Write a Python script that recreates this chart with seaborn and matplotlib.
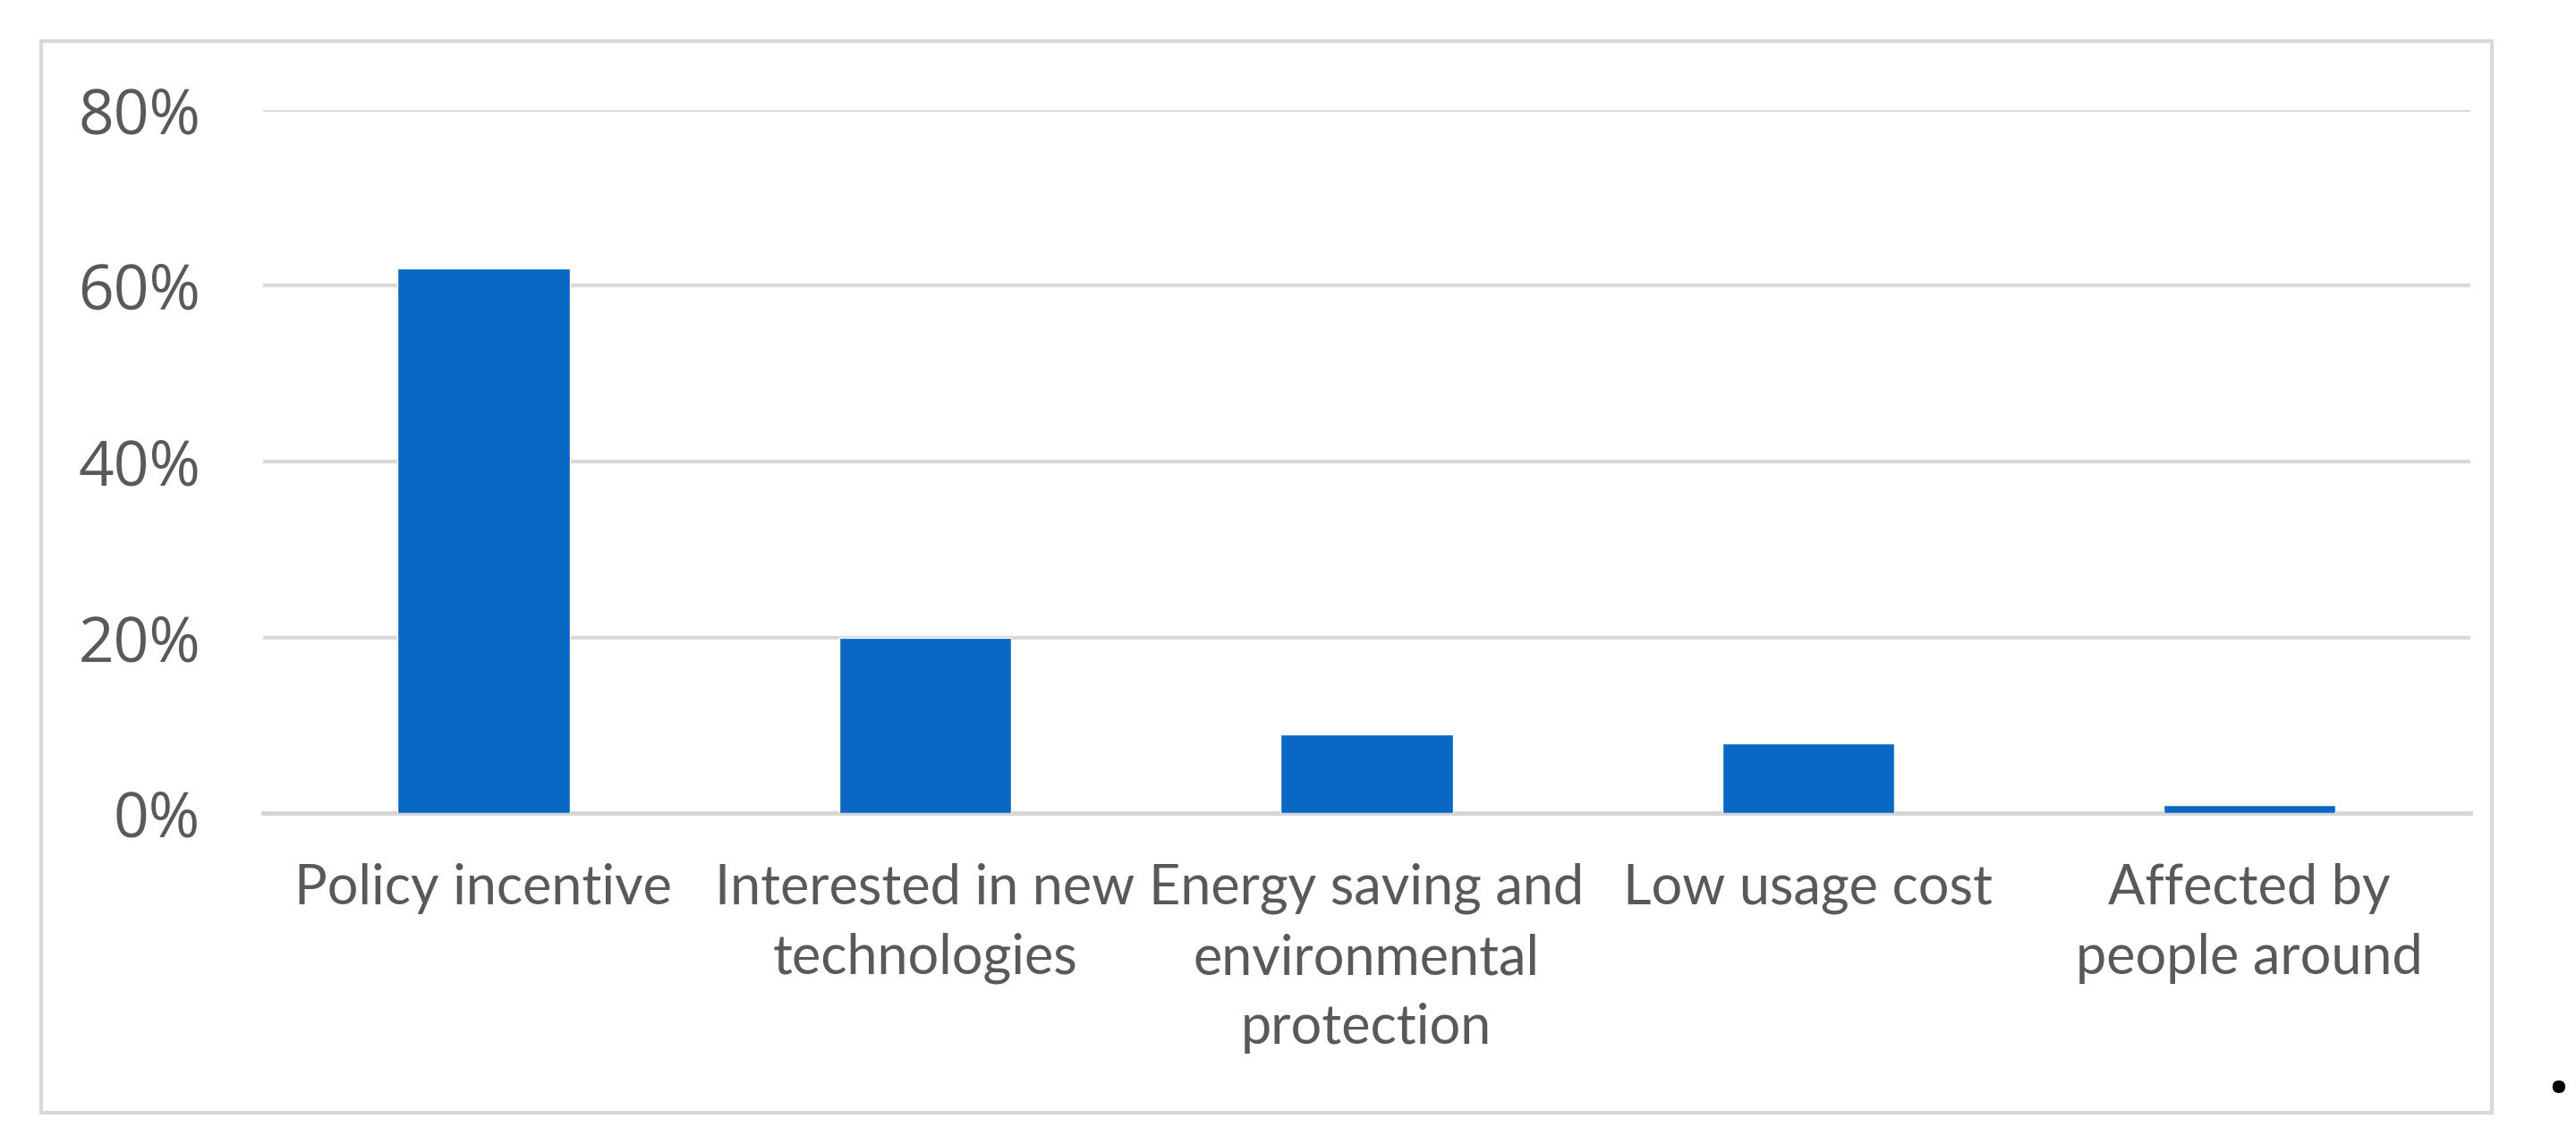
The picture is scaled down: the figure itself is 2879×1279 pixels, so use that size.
import numpy as np
import pandas as pd
import matplotlib
matplotlib.use("Agg")
import matplotlib.pyplot as plt
from matplotlib import ticker
from matplotlib.patches import Rectangle
import seaborn as sns

# datos
motivos = ["Policy incentive",
           "Interested in new\ntechnologies",
           "Energy saving and\nenvironmental\nprotection",
           "Low usage cost",
           "Affected by\npeople around"]
porcentajes = [62, 20, 9, 8, 1]
yticks = [0, 20, 40, 60, 80]

df = pd.DataFrame({"motivo": motivos, "pct": porcentajes})

sns.set_style("white")
plt.rcParams['font.family'] = ['Open Sans', 'DejaVu Sans']

fig = plt.figure(figsize=(28.79, 12.79), dpi=100)
ax = fig.add_axes([0.102, 0.289, 0.857, 0.615])

sns.barplot(data=df, x="motivo", y="pct", color="#0868c4", width=0.39,
            saturation=1, ax=ax, zorder=3)

ax.set_ylim(0, 80)
ax.set_xlim(-0.5, 4.5)
ax.set_yticks(yticks)
ax.yaxis.set_major_formatter(ticker.FuncFormatter(lambda v, p: f"{v:.0f}%"))
ax.grid(axis="y", color="#d9d9d9", linewidth=3, zorder=0)
ax.set_axisbelow(True)
for s in ["top", "right", "left"]:
    ax.spines[s].set_visible(False)
ax.spines["bottom"].set_color("#d6d6d6")
ax.spines["bottom"].set_linewidth(3.5)
ax.set_xlabel("")
ax.set_ylabel("")
ax.tick_params(axis="y", length=0, pad=50, labelsize=50, labelcolor="#595959")
ax.tick_params(axis="x", length=0, pad=40, labelcolor="#595959")
for lbl in ax.get_xticklabels():
    lbl.set_fontfamily(["Lato", "DejaVu Sans"])
    lbl.set_fontsize(44)
    lbl.set_linespacing(1.45)
    lbl.set_verticalalignment("top")

# marco gris alrededor
fig.patches.append(Rectangle((0.0159, 0.027), 0.9516, 0.937, transform=fig.transFigure,
                             fill=False, edgecolor="#d9d9d9", linewidth=3))
fig.text(0.993, 0.045, ".", fontsize=60, fontweight="bold", color="black", ha="center")

fig.savefig("out.png", dpi=100)
